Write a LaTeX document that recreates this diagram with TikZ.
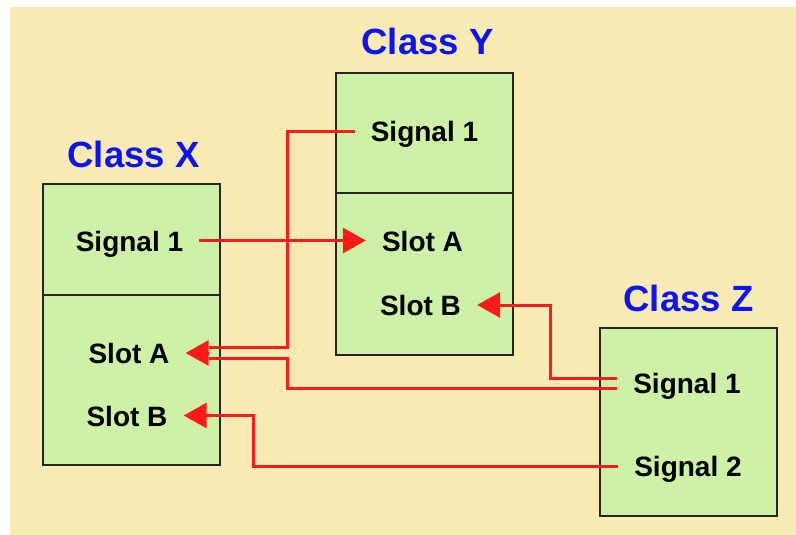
\documentclass[tikz,border=0pt]{standalone}
\usepackage{fontspec}
\setmainfont{Liberation Sans}
\usetikzlibrary{arrows.meta,positioning,calc}
\definecolor{bgc}{HTML}{FAEAB4}
\definecolor{grn}{HTML}{CDF2A7}
\definecolor{sig}{HTML}{FF1A1A}
\definecolor{ttl}{HTML}{0A14F5}
\tikzset{
  part/.style={draw=black!85, line width=1.4pt, fill=grn, minimum width=177pt, inner sep=0pt, outer sep=0pt},
  lbl/.style={font=\fontsize{28}{30}\selectfont\bfseries, text height=21pt, text depth=0pt, inner xsep=16pt, inner ysep=0pt},
  cname/.style={font=\fontsize{36.5}{40}\selectfont\bfseries, text=ttl, anchor=base},
  wire/.style={draw=sig, line width=3pt},
  sigarrow/.style={-{Triangle[length=23pt,width=25pt]}},
}

\begin{document}
\begin{tikzpicture}[x=1pt,y=-1pt]
  \useasboundingbox (0,0) rectangle (796,535);
  \fill[bgc] (10,7) rectangle (796,535);
  % class X
  \node[part, minimum height=111pt, anchor=north west] (xtop) at (43,184) {};
  \node[part, minimum height=170pt, anchor=north] (xbot) at (xtop.south) {};
  \node[cname] (xname) at ([xshift=2pt,yshift=17pt]xtop.north) {Class X};
  % class Y
  \node[part, minimum height=120pt, anchor=north west] (ytop) at (336,73) {};
  \node[part, minimum height=162pt, anchor=north] (ybot) at (ytop.south) {};
  \node[cname] (yname) at ([xshift=3pt,yshift=18pt]ytop.north) {Class Y};
  % class Z
  \node[part, minimum height=188pt, anchor=north west] (zbox) at (600,328) {};
  \node[cname] (zname) at ([yshift=17pt]zbox.north) {Class Z};
  % signals and slots
  \node[lbl] (xs1) at (129.5,240.5) {Signal 1};
  \node[lbl] (xsa) at (129,353) {Slot A};
  \node[lbl] (xsb) at (127,415.5) {Slot B};
  \node[lbl] (ys1) at (424.5,131) {Signal 1};
  \node[lbl] (ysa) at (422.5,240.5) {Slot A};
  \node[lbl] (ysb) at (420.5,305) {Slot B};
  \node[lbl] (zs1) at (687,383) {Signal 1};
  \node[lbl] (zs2) at (688,466) {Signal 2};
  % ports and bends
  \coordinate (xa-in) at ([xshift=23pt]xsa.east);
  \coordinate (xa-hi) at ([yshift=5.5pt]xa-in);
  \coordinate (xa-lo) at ([yshift=-5.5pt]xa-in);
  \coordinate (zs1-hi) at ([yshift=5pt]zs1.west);
  \coordinate (zs1-lo) at ([yshift=-5pt]zs1.west);
  \coordinate (vx) at (287,0);
  \coordinate (vz) at (550,0);
  \coordinate (vw) at (253,0);
  % connections
  \draw[wire,sigarrow] (xs1.east) -- (xs1.east -| ysa.west);
  \draw[wire] (ys1.west) -- (ys1.west -| vx) |- (xa-hi);
  \draw[wire] (zs1-lo) -- (zs1-lo -| vx) |- (xa-lo);
  \draw[wire,sigarrow] (xa-in) -- (xsa.east);
  \draw[wire,sigarrow] (zs1-hi) -- (zs1-hi -| vz) |- (ysb.east);
  \draw[wire,sigarrow] (zs2.west) -- (zs2.west -| vw) |- (xsb.east);
\end{tikzpicture}
\end{document}
